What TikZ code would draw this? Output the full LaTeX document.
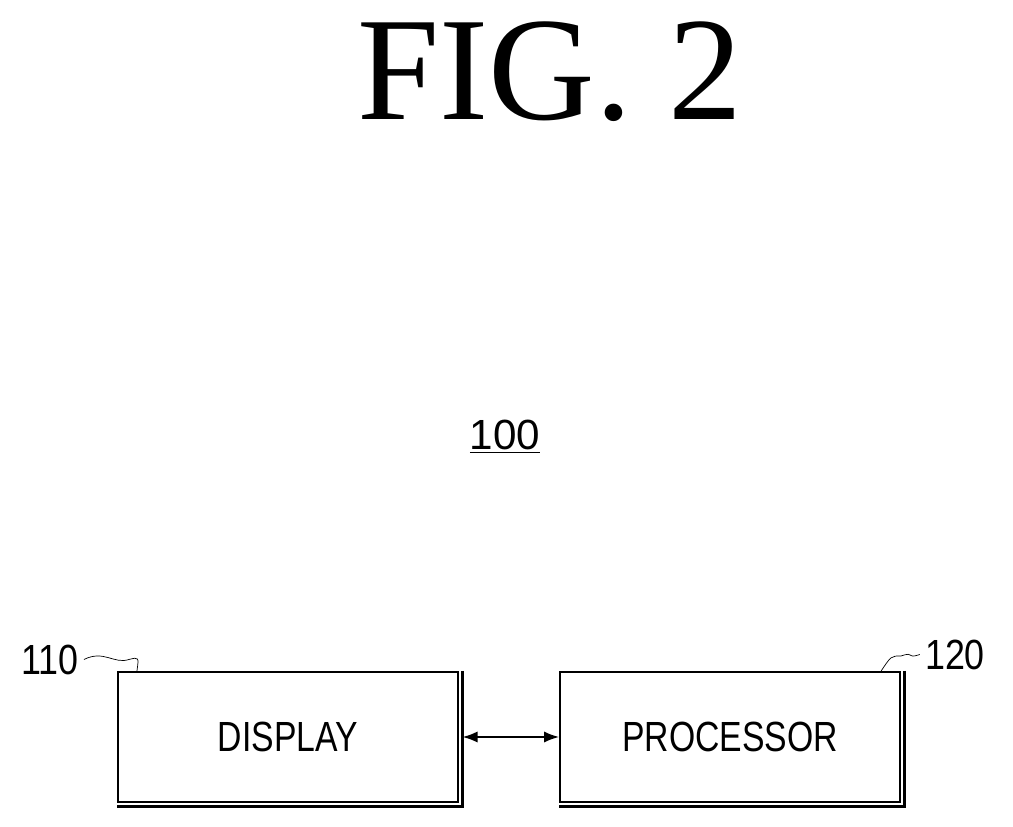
\documentclass[tikz,border=0pt]{standalone}
\usepackage{fontspec}
\setmainfont{Liberation Serif}
\setsansfont{Liberation Sans}
\usetikzlibrary{positioning,arrows.meta}
\tikzset{block/.style={draw,line width=1.2pt,minimum width=6.8cm,minimum height=2.6cm,font=\sffamily\fontsize{24}{24}\selectfont}}
\tikzset{ref/.style={font=\sffamily\fontsize{24}{24}\selectfont,inner sep=0pt}}
\tikzset{link/.style={line width=1pt,{Latex[length=3mm]}-{Latex[length=3mm]}}}
\begin{document}
\begin{tikzpicture}
    \useasboundingbox (0,0) rectangle (20.26,16.54);
    \node[font=\fontsize{84}{84}\selectfont] (fig) at (11,15.1) {FIG.\ 2};
    \node[ref] (sys) at (10.1,7.8) {\underline{100}};

    \node[block] (disp) at (5.76,1.8) {\scalebox{0.8}[1]{DISPLAY}};
    \node[block,right=2cm of disp] (proc) {\scalebox{0.8}[1]{PROCESSOR}};
    % shadow edges
    \draw[line width=1.5pt] ([xshift=2pt]disp.north east) -- ([xshift=2pt,yshift=-2pt]disp.south east) -- ([yshift=-2pt]disp.south west);
    \draw[line width=1.5pt] ([xshift=2pt]proc.north east) -- ([xshift=2pt,yshift=-2pt]proc.south east) -- ([yshift=-2pt]proc.south west);

    \node[ref] (l110) at (1,3.35) {\scalebox{0.85}[1]{110}};
    \node[ref] (l120) at (19.1,3.45) {\scalebox{0.85}[1]{120}};
    \draw[thin] (l110.east) ++(0.1,0) .. controls +(0.4,0.2) and +(-0.3,-0.1) .. ++(0.9,0) .. controls +(0.2,0.05) .. ([xshift=0.4cm]disp.north west);
    \draw[thin] ([xshift=-0.4cm]proc.north east) .. controls +(0.2,0.3) .. ++(0.4,0.3) .. controls +(0.3,0.1) and +(-0.3,-0.1) .. ([xshift=-0.1cm]l120.west);

    \draw[link] ([xshift=2pt]disp.east) -- (proc.west);
\end{tikzpicture}
\end{document}
